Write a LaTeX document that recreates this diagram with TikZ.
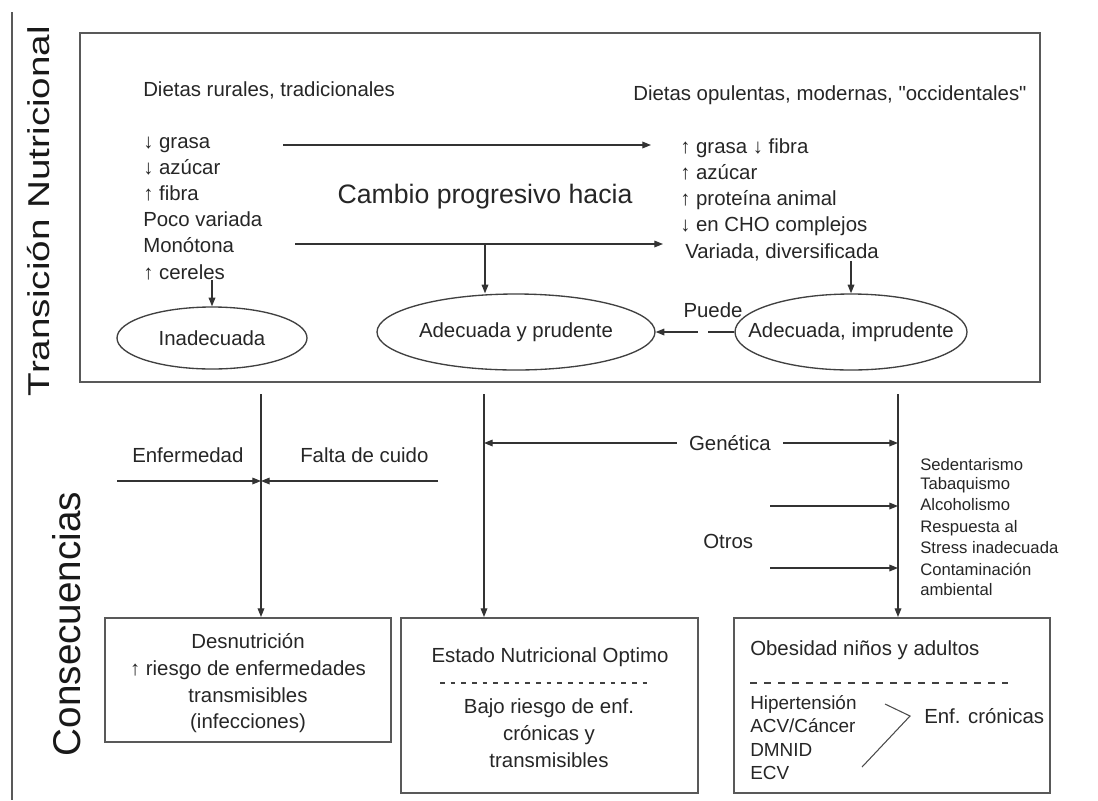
\documentclass[tikz,border=0pt]{standalone}
\usepackage{fontspec}
\setmainfont{Liberation Sans}
\newfontfamily\rawq{Liberation Sans}
\usetikzlibrary{arrows.meta,shapes.geometric}
\begin{document}
\begin{tikzpicture}[x=0.75pt,y=-0.75pt,
  ln/.style={draw=black!80, line width=0.9pt},
  arr/.style={ln, -{Triangle[length=6.5pt,width=5pt]}},
  frame/.style={draw=black!65, line width=1.5pt},
  ell/.style={ellipse, draw=black!75, line width=1pt, inner sep=0pt, font=\fontsize{15.3}{18}\selectfont, text=black!85},
  txt/.style={font=\fontsize{15.3}{18}\selectfont, text=black!85, inner sep=0pt},
  mid/.style={font=\fontsize{14.2}{17}\selectfont, text=black!85, inner sep=0pt},
  small/.style={font=\fontsize{12.5}{15}\selectfont, text=black!85, inner sep=0pt},
  title/.style={font=\fontsize{29}{34}\selectfont, text=black!90, inner sep=0pt, rotate=90},
]
\useasboundingbox (0,0) rectangle (1098,800);
\fill[white] (0,0) rectangle (1098,800);

% left rule and titles
\coordinate (ruleT) at (12,12);
\coordinate (ruleB) at (12,800);
\draw[draw=black!65, line width=1.2pt] (ruleT) -- (ruleB);
\node[title] (tn) at (39,211) {\scalebox{1}[0.78]{Transición Nutricional}};
\node[title] (cons) at (67,624) {Consecuencias};

% top frame
\node[frame, minimum width=720pt, minimum height=261.75pt, inner sep=0pt] (top) at (560,207.5) {};

\node[txt, anchor=base west] (drur) at (143,96) {Dietas rurales, tradicionales};
\node[txt, anchor=base west] (dopu) at (633,100) {Dietas opulentas, modernas, {\rawq"}occidentales{\rawq"}};

\foreach \t [count=\i] in {↓ grasa, ↓ azúcar, ↑ fibra, Poco variada, Monótona, ↑ cereles}
  \node[txt, anchor=base west] (L\i) at (143,{148+26.2*(\i-1)}) {\t};
\foreach \t [count=\i] in {↑ grasa ↓ fibra, ↑ azúcar, ↑ proteína animal, ↓ en CHO complejos}
  \node[txt, anchor=base west] (R\i) at (680,{153+26.3*(\i-1)}) {\t};
\node[txt, anchor=base west] (var) at (685,258) {Variada, diversificada};

\node[txt, anchor=base, font=\fontsize{20}{24}\selectfont] (cambio) at (485,203) {Cambio progresivo hacia};

\coordinate (a1s) at (283,145);
\coordinate (a1e) at (651,145);
\coordinate (a2s) at (295,244);
\coordinate (a2e) at (663,244);
\draw[arr] (a1s) -- (a1e);
\draw[arr] (a2s) -- (a2e);

\node[ell, minimum width=142.5pt, minimum height=46.5pt] (inad) at (212,338) {\makebox[0pt]{Inadecuada}};
\node[ell, minimum width=208.5pt, minimum height=57pt] (prud) at (516,332) {\makebox[0pt]{Adecuada y prudente}};
\node[ell, minimum width=174pt, minimum height=57pt] (impr) at (851,332) {\makebox[0pt]{Adecuada, imprudente}};

\coordinate (m1) at (485,244);
\draw[arr] (inad.north |- L6.south) -- (inad.north);
\draw[arr] (m1) -- (m1 |- prud.north);
\draw[arr] (impr.north |- var.south) -- (impr.north);
\draw[arr] (impr.west) -- node[pos=0.4, fill=white, minimum width=7pt, minimum height=3pt, inner sep=0pt] (gap) {} (prud.east);
\node[txt, anchor=base] (puede) at (713,317) {Puede};

% lower section
\coordinate (t1) at (261,394);
\coordinate (t2) at (484,394);
\coordinate (t3) at (898,394);

\node[frame, minimum width=214.5pt, minimum height=93pt, inner sep=0pt] (b1) at (248,680) {};
\node[frame, minimum width=222.75pt, minimum height=131.25pt, inner sep=0pt] (b2) at (549.5,705.5) {};
\node[frame, minimum width=237pt, minimum height=131.25pt, inner sep=0pt] (b3) at (892,705.5) {};

\draw[arr] (t1) -- (t1 |- b1.north);
\draw[arr] (t2) -- (t2 |- b2.north);
\draw[arr] (t3) -- (t3 |- b3.north);

% box 1 content
\node[txt, anchor=base] (des1) at (248,648) {Desnutrición};
\node[txt, anchor=base] (des2) at (248,675) {↑ riesgo de enfermedades};
\node[txt, anchor=base] (des3) at (248,702) {transmisibles};
\node[txt, anchor=base] (des4) at (248,728) {(infecciones)};

\node[txt, anchor=base west] (enf) at (132,462) {Enfermedad};
\node[txt, anchor=base west] (falta) at (300,462) {Falta de cuido};
\coordinate (e1) at (117,481);
\coordinate (e2) at (438,481);
\draw[arr] (e1) -- (e1 -| t1);
\draw[arr] (e2) -- (e2 -| t1);

\coordinate (g1) at (484,443);
\coordinate (g2) at (898,443);
\draw[ln, {Triangle[length=6.5pt,width=5pt]}-{Triangle[length=6.5pt,width=5pt]}] (g1) --
  node[pos=0.594, fill=white, txt, inner xsep=9pt, inner ysep=2pt] (gen) {Genética} (g2);

\coordinate (o1) at (770,506);
\coordinate (o2) at (770,568);
\draw[arr] (o1) -- (o1 -| t3);
\draw[arr] (o2) -- (o2 -| t3);
\node[txt, anchor=base west] (otros) at (703,548) {Otros};

\foreach \t/\yy [count=\i] in {Sedentarismo/470, Tabaquismo/489, Alcoholismo/510, Respuesta al/532, Stress inadecuada/553, Contaminación/575, ambiental/595}
  \node[small, anchor=base west] (S\i) at (920,\yy) {\t};

% box 2 content
\node[txt, anchor=base] (eno) at (550,662) {Estado Nutricional Optimo};
\coordinate (d2a) at (440,683);
\coordinate (d2b) at (648,683);
\draw[draw=black!75, line width=0.8pt, dash pattern=on 3.5pt off 4.5pt] (d2a) -- (d2b);
\node[txt, anchor=base] (bajo1) at (549,713) {Bajo riesgo de enf.};
\node[txt, anchor=base] (bajo2) at (549,740) {crónicas y};
\node[txt, anchor=base] (bajo3) at (549,767) {transmisibles};

% box 3 content
\node[txt, anchor=base west] (obe) at (750,655) {Obesidad niños y adultos};
\coordinate (d3a) at (750,683);
\coordinate (d3b) at (1008,683);
\draw[draw=black!75, line width=0.8pt, dash pattern=on 5pt off 5.5pt] (d3a) -- (d3b);
\node[mid, anchor=base west] (H1) at (750,709) {Hipertensión};
\node[mid, anchor=base west] (H2) at (750,732) {ACV/Cáncer};
\node[mid, anchor=base west] (H3) at (750,756) {DMNID};
\node[mid, anchor=base west] (H4) at (750,779) {ECV};
\coordinate (k1) at (885,704);
\coordinate (k2) at (910,716);
\coordinate (k3) at (862,767);
\draw[draw=black!70, line width=0.8pt] (k1) -- (k2) -- (k3);
\node[txt, anchor=base west] (enfc) at (924,723) {Enf. crónicas};
\end{tikzpicture}
\end{document}
